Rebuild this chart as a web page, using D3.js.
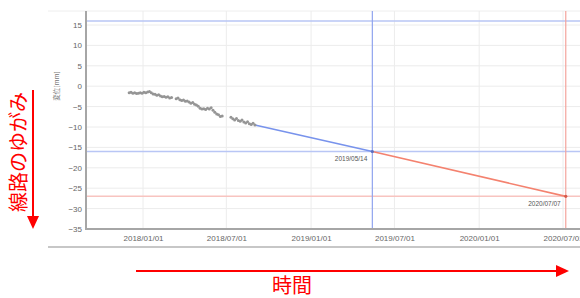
<!DOCTYPE html>
<html>
<head>
<meta charset="utf-8">
<script src="https://cdn.jsdelivr.net/npm/d3@7"></script>
<style>
  body { margin: 0; background: #fff; }
  svg { display: block; font-family: "Liberation Sans", Arial, sans-serif; }
</style>
</head>
<body>
<svg id="chart" width="580" height="298"></svg>
<script>
/*** DATA ***/
// measured displacement (gray dots)
const obsDates = [
  "2017-12-02","2017-12-06","2017-12-10","2017-12-14","2017-12-18","2017-12-22","2017-12-26","2017-12-30",
  "2018-01-03","2018-01-07","2018-01-11","2018-01-15","2018-01-19","2018-01-23","2018-01-27","2018-01-31",
  "2018-02-04","2018-02-08","2018-02-12","2018-02-16","2018-02-20","2018-02-24","2018-02-28","2018-03-04",
  "2018-03-14","2018-03-18","2018-03-22","2018-03-26","2018-03-30","2018-04-03","2018-04-07","2018-04-11",
  "2018-04-15","2018-04-19","2018-04-23","2018-04-27","2018-05-01","2018-05-05","2018-05-09","2018-05-13",
  "2018-05-17","2018-05-21","2018-05-25","2018-05-29","2018-06-02","2018-06-06","2018-06-10","2018-06-14",
  "2018-06-18","2018-06-22",
  "2018-07-11","2018-07-15","2018-07-19","2018-07-23","2018-07-27","2018-07-31","2018-08-04","2018-08-08",
  "2018-08-12","2018-08-16","2018-08-20","2018-08-24","2018-08-28","2018-09-01"
];
const obsValues = [
  -1.6,-1.5,-1.7,-1.6,-1.8,-1.7,-1.6,-1.7,
  -1.5,-1.6,-1.4,-1.3,-1.6,-1.9,-2.0,-2.2,
  -2.1,-2.4,-2.6,-2.5,-2.7,-2.6,-2.9,-2.8,
  -3.1,-2.9,-3.3,-3.5,-3.4,-3.7,-3.6,-3.9,
  -4.2,-4.0,-4.4,-4.6,-4.9,-5.4,-5.6,-5.5,
  -5.7,-5.4,-5.6,-5.3,-5.9,-6.4,-6.8,-7.0,
  -7.4,-7.3,
  -7.6,-8.0,-8.3,-7.9,-8.4,-8.6,-8.3,-8.8,
  -9.0,-8.7,-9.2,-9.4,-9.1,-9.5
];
// forecast points: last measured -> limit reached (blue), limit -> next limit (red)
const forecastDates  = ["2018-09-01", "2019-05-14", "2020-07-07"];
const forecastValues = [-9.5, -16, -27];
const forecastLabels = ["", "2019/05/14", "2020/07/07"];

// threshold lines
const blueLimits = [16, -16];
const redLimits  = [-27];

const yTicks = [15, 10, 5, 0, -5, -10, -15, -20, -25, -30, -35];
const xTickDates = ["2018-01-01", "2018-07-01", "2019-01-01", "2019-07-01", "2020-01-01", "2020-07-01"];

/*** SETUP ***/
const parse = d3.timeParse("%Y-%m-%d");
const fmt = d3.timeFormat("%Y/%m/%d");
const svg = d3.select("#chart");

const plot = {left: 86, right: 600, top: 11, bottom: 229};

const x = d3.scaleTime()
    .domain([parse("2018-01-01"), parse("2020-07-01")])
    .range([143, 563]);
const y = d3.scaleLinear()
    .domain([-35, 15])
    .range([229, 25]);

// frame of the screenshot
svg.append("line").attr("x1", 48).attr("x2", 580).attr("y1", 11).attr("y2", 11)
    .attr("stroke", "#eeeeee");
svg.append("line").attr("x1", 48).attr("x2", 580).attr("y1", 247).attr("y2", 247)
    .attr("stroke", "#b4b4b4").attr("stroke-width", 1.5);

// GRID
svg.append("g").selectAll("line")
  .data(yTicks)
  .enter().append("line")
    .attr("x1", plot.left).attr("x2", plot.right)
    .attr("y1", d => y(d)).attr("y2", d => y(d))
    .attr("stroke", "#ececec");
svg.append("g").selectAll("line")
  .data(xTickDates)
  .enter().append("line")
    .attr("x1", d => x(parse(d))).attr("x2", d => x(parse(d)))
    .attr("y1", plot.top).attr("y2", plot.bottom)
    .attr("stroke", "#ececec");

// THRESHOLDS
svg.append("g").selectAll("line")
  .data(blueLimits)
  .enter().append("line")
    .attr("x1", plot.left).attr("x2", plot.right)
    .attr("y1", d => y(d)).attr("y2", d => y(d))
    .attr("stroke", "#b9c6f5").attr("stroke-width", 1.5);
svg.append("g").selectAll("line")
  .data(redLimits)
  .enter().append("line")
    .attr("x1", plot.left).attr("x2", plot.right)
    .attr("y1", d => y(d)).attr("y2", d => y(d))
    .attr("stroke", "#f8c4c0").attr("stroke-width", 1.5);

// vertical markers at forecast dates
const fc = forecastDates.map((d, i) => ({date: parse(d), value: forecastValues[i], label: forecastLabels[i]}));
svg.append("line")
    .attr("x1", x(fc[1].date)).attr("x2", x(fc[1].date))
    .attr("y1", plot.top).attr("y2", plot.bottom)
    .attr("stroke", "#90a4ee").attr("stroke-width", 1.2);
svg.append("line")
    .attr("x1", x(fc[2].date)).attr("x2", x(fc[2].date))
    .attr("y1", plot.top).attr("y2", plot.bottom)
    .attr("stroke", "#f3a49c").attr("stroke-width", 1.2);

// AXES
const yAxis = svg.append("g").attr("transform", `translate(${plot.left},0)`)
    .call(d3.axisLeft(y).tickValues(yTicks).tickSize(0).tickPadding(4));
yAxis.select(".domain").remove();
yAxis.selectAll("text").attr("fill", "#666").style("font-size", "8px");

const xAxis = svg.append("g").attr("transform", `translate(0,${plot.bottom})`)
    .call(d3.axisBottom(x).tickValues(xTickDates.map(parse)).tickFormat(fmt).tickSize(0).tickPadding(6));
xAxis.select(".domain").remove();
xAxis.selectAll("text").attr("fill", "#666").style("font-size", "8px");

svg.append("line").attr("x1", plot.left).attr("x2", plot.left)
    .attr("y1", plot.top).attr("y2", plot.bottom + 1)
    .attr("stroke", "#a6a6a6").attr("stroke-width", 2);
svg.append("line").attr("x1", plot.left).attr("x2", plot.right)
    .attr("y1", plot.bottom).attr("y2", plot.bottom)
    .attr("stroke", "#a6a6a6").attr("stroke-width", 2);

svg.append("text")
    .attr("transform", `translate(59,86) rotate(-90)`)
    .attr("text-anchor", "middle")
    .attr("fill", "#777")
    .style("font-size", "6.5px")
    .style("font-family", "'Noto Sans CJK JP', sans-serif")
    .text("変位[mm]");

// FORECAST LINES
const line = d3.line().x(d => x(d.date)).y(d => y(d.value));
svg.append("path").attr("d", line([fc[0], fc[1]]))
    .attr("fill", "none").attr("stroke", "#7893ec").attr("stroke-width", 1.6);
svg.append("path").attr("d", line([fc[1], fc[2]]))
    .attr("fill", "none").attr("stroke", "#f4826f").attr("stroke-width", 1.6);

svg.append("g").selectAll("circle")
  .data(fc.slice(1))
  .enter().append("circle")
    .attr("cx", d => x(d.date)).attr("cy", d => y(d.value)).attr("r", 1.6)
    .attr("fill", (d, i) => i === 0 ? "#5a6fc0" : "#d45a4a");

svg.append("g").selectAll("text")
  .data(fc.slice(1))
  .enter().append("text")
    .attr("x", d => x(d.date) - 5).attr("y", d => y(d.value) + 10)
    .attr("text-anchor", "end")
    .attr("fill", "#555")
    .style("font-size", "6.5px")
    .text(d => d.label);

// OBSERVED POINTS
const obs = obsDates.map((d, i) => ({date: parse(d), value: obsValues[i]}));
svg.append("g").selectAll("circle")
  .data(obs)
  .enter().append("circle")
    .attr("cx", d => x(d.date)).attr("cy", d => y(d.value)).attr("r", 1.5)
    .attr("fill", "#959595");

/*** RED ANNOTATIONS ***/
const red = "#ff0000";
// vertical arrow
svg.append("line").attr("x1", 33).attr("x2", 33).attr("y1", 90).attr("y2", 218)
    .attr("stroke", red).attr("stroke-width", 2);
svg.append("path").attr("d", "M27,216 L39,216 L33,229 Z").attr("fill", red);
// horizontal arrow
svg.append("line").attr("x1", 136).attr("x2", 558).attr("y1", 271).attr("y2", 271)
    .attr("stroke", red).attr("stroke-width", 2);
svg.append("path").attr("d", "M556,265 L556,277 L569,271 Z").attr("fill", red);

svg.append("text")
    .attr("transform", "translate(26,152) rotate(-90)")
    .attr("text-anchor", "middle")
    .attr("fill", red)
    .style("font-size", "20px")
    .style("font-family", "'Noto Sans CJK JP', sans-serif")
    .text("線路のゆがみ");
svg.append("text")
    .attr("x", 292).attr("y", 293)
    .attr("text-anchor", "middle")
    .attr("fill", red)
    .style("font-size", "20px")
    .style("font-family", "'Noto Sans CJK JP', sans-serif")
    .text("時間");
</script>
</body>
</html>
